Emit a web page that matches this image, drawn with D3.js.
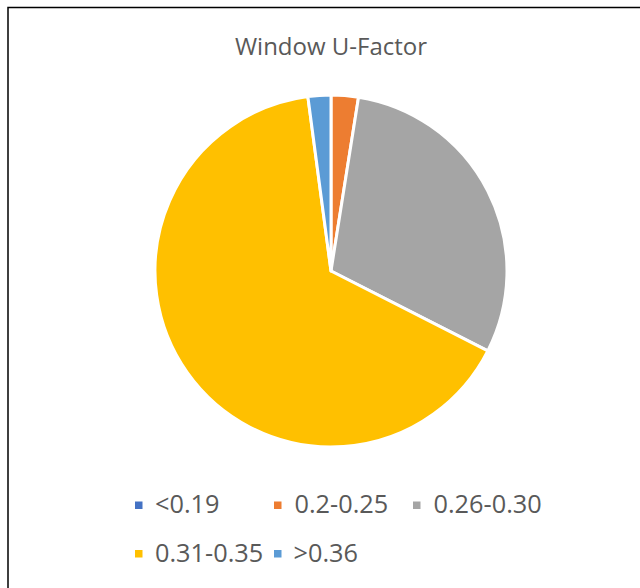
<!DOCTYPE html>
<html>
<head>
<meta charset="utf-8">
<script src="https://cdn.jsdelivr.net/npm/d3@7"></script>
<style>
  html, body { margin: 0; padding: 0; background: #fff; }
  svg { display: block; }
</style>
</head>
<body>
<svg id="chart" width="640" height="588"></svg>
<script>
const categories = ["<0.19", "0.2-0.25", "0.26-0.30", "0.31-0.35", ">0.36"];
const values = [0, 2.5, 30, 65.4, 2.1];
const colors = ["#4472C4", "#ED7D31", "#A5A5A5", "#FFC000", "#5B9BD5"];
const title = "Window U-Factor";

const svg = d3.select("#chart");

svg.append("rect")
  .attr("x", 8).attr("y", 7.5)
  .attr("width", 700).attr("height", 700)
  .attr("fill", "none").attr("stroke", "#000").attr("stroke-width", 1.5);

svg.append("text")
  .attr("x", 331).attr("y", 54.5)
  .attr("text-anchor", "middle")
  .attr("font-family", "'Open Sans', Lato, sans-serif")
  .attr("font-size", 24)
  .attr("fill", "#595959")
  .text(title);

const cx = 331, cy = 271, r = 176;
const data = categories.map((c, i) => ({ cat: c, value: values[i], color: colors[i] }));
const pie = d3.pie().sort(null).value(d => d.value).startAngle(0).endAngle(2 * Math.PI);
const arc = d3.arc().innerRadius(0).outerRadius(r);

const g = svg.append("g").attr("transform", `translate(${cx},${cy})`);
g.selectAll("path")
  .data(pie(data))
  .join("path")
  .attr("d", arc)
  .attr("fill", d => d.data.color)
  .attr("stroke", "#fff")
  .attr("stroke-width", 3)
  .attr("stroke-linejoin", "round");

const legendPos = [
  { sx: 135, tx: 155, y: 513 },
  { sx: 274, tx: 294.5, y: 513 },
  { sx: 413, tx: 433.5, y: 513 },
  { sx: 135, tx: 155, y: 561.5 },
  { sx: 274, tx: 293.5, y: 561.5 }
];
const items = svg.append("g").selectAll("g.item")
  .data(data)
  .join("g").attr("class", "item");
items.append("rect")
  .attr("x", (d, i) => legendPos[i].sx)
  .attr("y", (d, i) => legendPos[i].y - 11.5)
  .attr("width", 7.5).attr("height", 7.5)
  .attr("fill", d => d.color);
items.append("text")
  .attr("x", (d, i) => legendPos[i].tx)
  .attr("y", (d, i) => legendPos[i].y)
  .attr("font-family", "'Open Sans', Lato, sans-serif")
  .attr("font-size", 25.3)
  .attr("fill", "#595959")
  .text(d => d.cat);
</script>
</body>
</html>
